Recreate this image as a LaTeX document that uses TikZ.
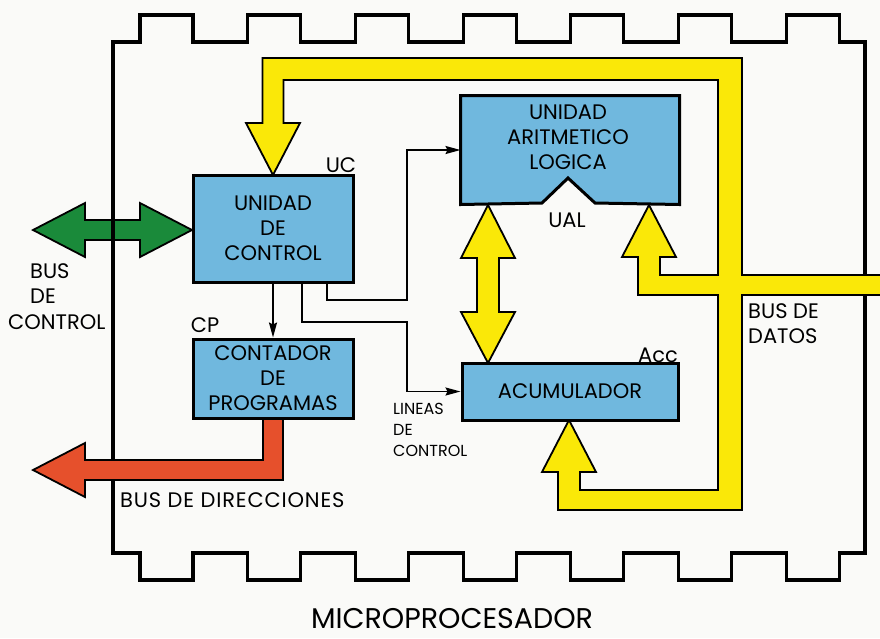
\documentclass[tikz,border=0pt]{standalone}
\usepackage{fontspec}
\setmainfont{Poppins}
\usetikzlibrary{arrows.meta}
\definecolor{paper}{RGB}{250,250,248}
\definecolor{boxblue}{RGB}{112,184,222}
\definecolor{busyellow}{RGB}{250,232,8}
\definecolor{busgreen}{RGB}{26,138,58}
\definecolor{busred}{RGB}{230,80,44}

\begin{document}
\begin{tikzpicture}[x=1pt,y=-1pt,line join=miter,
  box/.style={draw=black,line width=3pt,fill=boxblue,inner sep=0pt,align=center,
    font=\fontsize{21}{25}\selectfont},
  lbl/.style={inner sep=0pt,font=\fontsize{21}{25}\selectfont},
  small/.style={inner sep=0pt,anchor=west,align=left,font=\fontsize{16}{21}\selectfont},
  bus/.style={draw=black,line width=1.8pt},
  ctl/.style={line width=1.8pt,-{Stealth[length=15pt,width=8pt,inset=2pt]}}]
  \fill[paper] (0,0) rectangle (880,638);
  \useasboundingbox (0,0) rectangle (880,638);
  % Control bus (green), under the chip outline.
  \filldraw[bus,fill=busgreen] (33,230) -- (85,203) -- (85,220) -- (140,220) -- (140,203)
    -- (192,230) -- (140,257) -- (140,240) -- (85,240) -- (85,257) -- cycle;
  % Chip outline with seven pins on top and bottom.
  \draw[line width=3.2pt] (113,553) -- (113,42)
    foreach \i in {0,...,6} { -- ({140+107.7*\i},42) -- ++(0,-27) -- ++(53,0) -- ++(0,27) }
    -- (865,42) -- (865,553)
    foreach \i in {6,...,0} { -- ({193+107.7*\i},553) -- ++(0,27) -- ++(-53,0) -- ++(0,-27) }
    -- cycle;
  % Data bus (yellow).
  \filldraw[bus,fill=busyellow] (273,175) -- (300,123) -- (283.5,123) -- (283.5,80) -- (718,80)
    -- (718,275) -- (660,275) -- (660,257) -- (676,257) -- (649,205) -- (622,257) -- (638,257)
    -- (638,295) -- (718,295) -- (718,490) -- (580,490) -- (580,472) -- (596,472) -- (569,420)
    -- (542,472) -- (558,472) -- (558,510) -- (742,510) -- (742,295) -- (884,295) -- (884,275)
    -- (742,275) -- (742,58) -- (262.5,58) -- (262.5,123) -- (246,123) -- cycle;
  \filldraw[bus,fill=busyellow] (488,205) -- (515,258) -- (499,258) -- (499,312) -- (515,312)
    -- (488,363) -- (461,312) -- (477,312) -- (477,258) -- (461,258) -- cycle;
  % Address bus (red), over the chip outline.
  \filldraw[bus,fill=busred] (263,418) -- (283,418) -- (283,480) -- (85,480) -- (85,497)
    -- (33,470) -- (85,443) -- (85,460) -- (263,460) -- cycle;
  % Blocks.
  \node[box,minimum width=160pt,minimum height=107pt] (UC) at (273,228.5) {UNIDAD\\DE\\CONTROL};
  \node[box,minimum width=160pt,minimum height=79pt] (CP) at (273,378.5) {CONTADOR\\DE\\PROGRAMAS};
  \node[box,minimum width=216pt,minimum height=57pt] (Acc) at (570,391.5) {ACUMULADOR};
  \node[box,draw=none,minimum width=216pt,minimum height=106pt] (UAL) at (570,150) {};
  \fill[paper] (542,203) -- (568,178) -- (595,203) -- cycle;
  \draw[line width=3pt] (UAL.south west) -- (UAL.north west) -- (UAL.north east)
    -- (UAL.south east) -- (595,203) -- (568,178) -- (542,203) -- cycle;
  \node[lbl,align=center] (ualtext) at (568,137) {UNIDAD\\ARITMETICO\\LOGICA};
  % Control lines.
  \draw[ctl] (UC.south) -- (CP.north);
  \draw[ctl] ([xshift=54pt]UC.south) |- (407,300) |- (UAL.west);
  \draw[ctl] ([xshift=29pt]UC.south) |- (407,322) |- (Acc.west);
  % Labels.
  \node[lbl] (uclbl) at (341,165) {UC};
  \node[lbl] (cplbl) at (205,325) {CP};
  \node[lbl] (uallbl) at (567,220) {UAL};
  \node[lbl] (acclbl) at (658,355) {Acc};
  \node[lbl,anchor=west] (bc1) at (30,271) {BUS};
  \node[lbl,anchor=west] (bc2) at (30,296) {DE};
  \node[lbl,anchor=west] (bc3) at (8,322) {CONTROL};
  \node[lbl,anchor=west] (bdir) at (120,500) {\addfontfeature{LetterSpace=4}BUS DE DIRECCIONES};
  \node[lbl,anchor=west] (bd1) at (748,311) {BUS DE};
  \node[lbl,anchor=west] (bd2) at (748,336) {DATOS};
  \node[small] (lineas) at (393,430) {LINEAS\\DE\\CONTROL};
  \node[inner sep=0pt,font=\fontsize{28.5}{32}\selectfont] (title) at (452,619) {MICROPROCESADOR};
\end{tikzpicture}
\end{document}
